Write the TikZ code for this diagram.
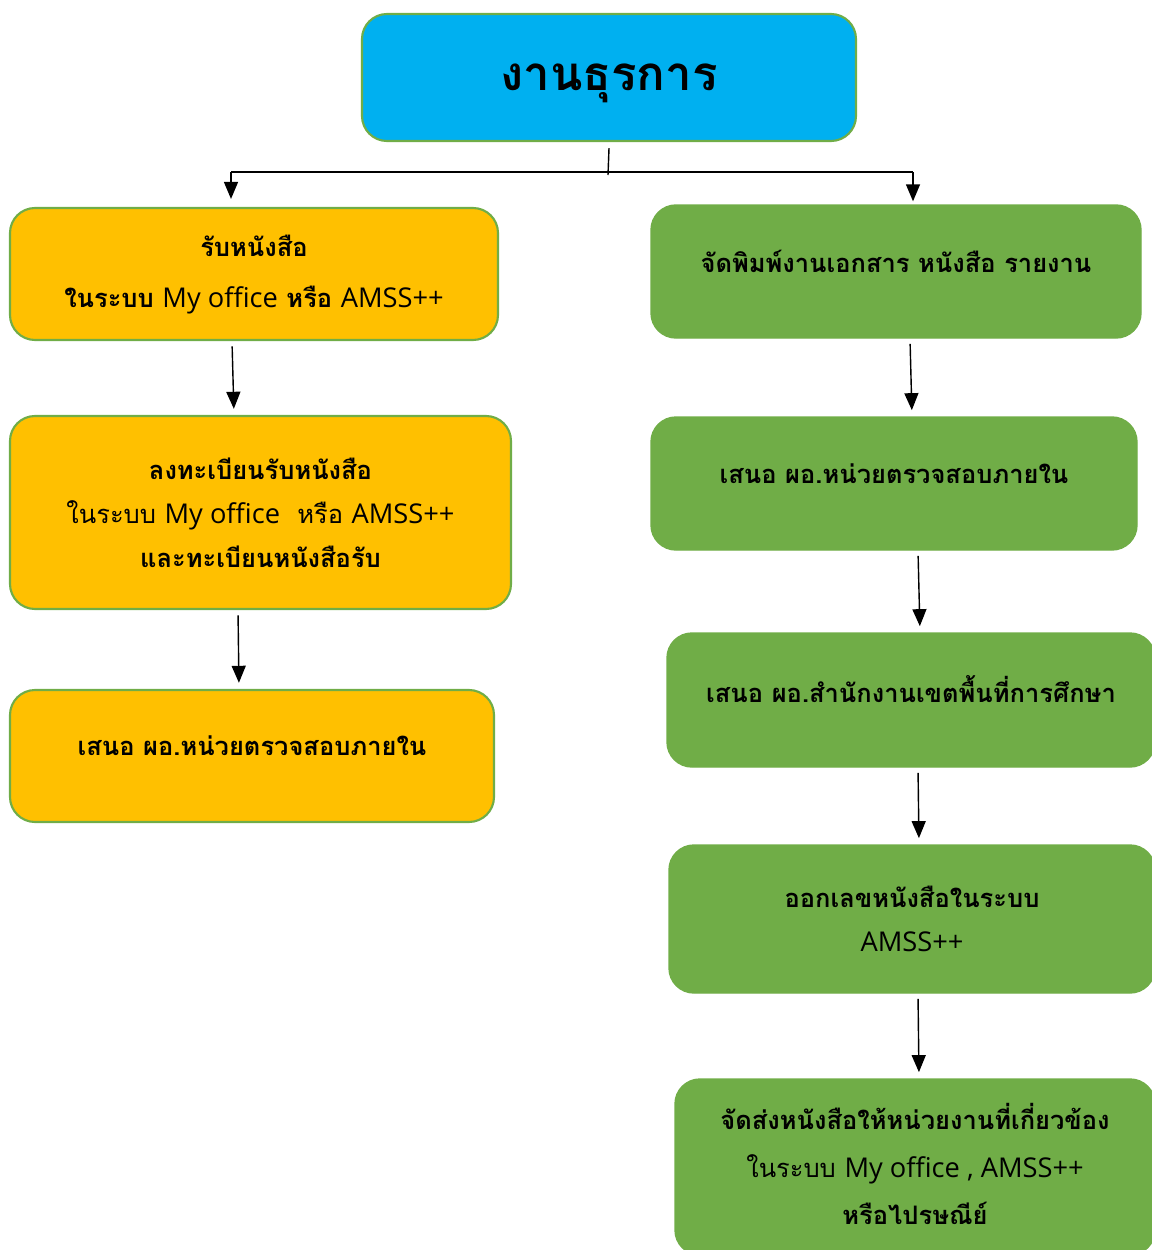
\documentclass[tikz,border=0pt]{standalone}
\usepackage{fontspec}
\setmainfont[Script=Thai]{Loma}
\newfontfamily\lat{Open Sans}
\usetikzlibrary{arrows.meta}
\definecolor{skyfill}{HTML}{00B0F0}
\definecolor{goldfill}{HTML}{FFC000}
\definecolor{leaf}{HTML}{70AD47}
\begin{document}
\begin{tikzpicture}[>={Triangle[width=0.28cm,length=0.34cm]},line width=0.8pt,
head/.style={rectangle, rounded corners=0.5cm, draw=leaf, line width=1.2pt, fill=skyfill, align=center, font=\fontsize{27}{30}\selectfont\bfseries, minimum width=9.88cm, minimum height=2.54cm},
recv/.style={rectangle, rounded corners=0.5cm, draw=leaf, line width=1.2pt, fill=goldfill, align=center, font=\fontsize{14.5}{25}\selectfont, minimum width=9.76cm, minimum height=2.64cm},
work/.style={rectangle, rounded corners=0.5cm, draw=leaf, fill=leaf, align=center, font=\fontsize{14.5}{25}\selectfont, minimum width=9.76cm, minimum height=2.66cm},
flow/.style={->, shorten <=3pt, shorten >=3.5pt}]

\useasboundingbox (0,0) rectangle (23.02,-25);

\draw (12.18,-1.55) node[head, text height=0.75cm] (T) {งานธุรการ};

\draw (5.08,-5.48) node[recv, text depth=0.1cm] (L1) {\textbf{รับหนังสือ}\\[4pt] \textbf{ในระบบ} {\lat\fontsize{15.5}{25}\selectfont My office} \textbf{หรือ} {\lat\fontsize{15.5}{25}\selectfont AMSS++}};
\draw (5.21,-10.25) node[recv, minimum width=10.02cm, minimum height=3.86cm] (L2) {\textbf{ลงทะเบียนรับหนังสือ}\\ ในระบบ {\lat\fontsize{15.5}{25}\selectfont My office}~ หรือ {\lat\fontsize{15.5}{25}\selectfont AMSS++}\\ \textbf{และทะเบียนหนังสือรับ}};
\draw (5.04,-15.12) node[recv, minimum width=9.68cm, text depth=0.4cm] (L3) {\textbf{เสนอ ผอ.หน่วยตรวจสอบภายใน}};

\draw (17.92,-5.43) node[work, minimum width=9.80cm, text depth=0.4cm] (R1) {\textbf{จัดพิมพ์งานเอกสาร หนังสือ รายงาน}};
\draw (17.88,-9.67) node[work, minimum width=9.72cm, text depth=0.4cm] (R2) {\textbf{เสนอ ผอ.หน่วยตรวจสอบภายใน}};
\draw (18.22,-14.00) node[work, minimum height=2.68cm, text depth=0.45cm] (R3) {\textbf{เสนอ ผอ.สำนักงานเขตพื้นที่การศึกษา}};
\draw (18.24,-18.38) node[work, minimum width=9.72cm, minimum height=2.96cm] (R4) {\textbf{ออกเลขหนังสือในระบบ}\\ {\lat\fontsize{15.5}{25}\selectfont AMSS++}};
\draw (18.30,-23.34) node[work, minimum width=9.60cm, minimum height=3.52cm, text depth=0.12cm] (R5) {\textbf{จัดส่งหนังสือให้หน่วยงานที่เกี่ยวข้อง}\\[2pt] ในระบบ {\lat\fontsize{15.5}{25}\selectfont My office , AMSS++}\\[2pt] \textbf{หรือไปรษณีย์}};

\coordinate (bus) at (12.16,-3.44);
\coordinate (busL) at (4.62,-3.44);
\coordinate (busR) at (18.26,-3.44);

\draw ([yshift=-0.12cm]T.south) -- ([yshift=-0.06cm]bus);
\draw (busL) -- (busR);
\draw[->, shorten >=0.16cm] (busL) -- (busL |- L1.north);
\draw[->, shorten >=0.06cm] (busR) -- (busR |- R1.north);

\draw[flow] ([xshift=-0.44cm]L1.south) -- ([xshift=-0.53cm]L2.north);
\draw[flow] ([xshift=-0.45cm]L2.south) -- ([xshift=-0.26cm]L3.north);

\draw[flow] ([xshift=0.28cm]R1.south) -- ([xshift=0.36cm]R2.north);
\draw[flow] ([xshift=0.48cm]R2.south) -- ([xshift=0.18cm]R3.north);
\draw[flow] ([xshift=0.14cm]R3.south) -- ([xshift=0.14cm]R4.north);
\draw[flow] ([xshift=0.12cm]R4.south) -- ([xshift=0.08cm]R5.north);
\end{tikzpicture}
\end{document}
